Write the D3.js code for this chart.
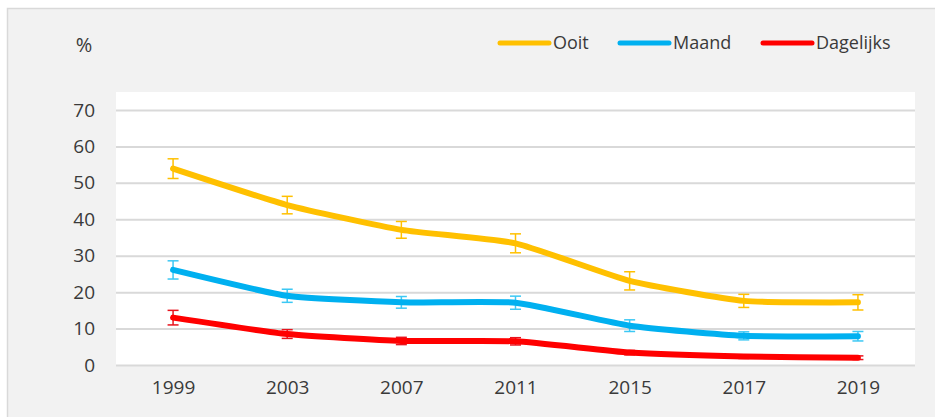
<!DOCTYPE html>
<html>
<head>
<meta charset="utf-8">
<script src="https://cdn.jsdelivr.net/npm/d3@7"></script>
<style>
    body { margin: 0; background: #ffffff; }
    text { font-family: "Open Sans", sans-serif; fill: #3a3a3a; }
    .y-axis path, .x-axis path, .x-axis line { display: none; }
    .y-axis line { stroke: #d9d9d9; stroke-width: 2; }
</style>
</head>
<body>
<div class="chart"></div>
<script>
// jaren op de x-as
const years = ["1999", "2003", "2007", "2011", "2015", "2017", "2019"];

// percentages per reeks
const ooit = [53.9, 43.9, 37.1, 33.4, 23.1, 17.6, 17.2];
const maand = [26.1, 19.0, 17.2, 17.1, 10.8, 8.0, 7.9];
const dagelijks = [13.0, 8.5, 6.6, 6.5, 3.4, 2.3, 2.0];

// foutmarges (+/-)
const ooitErr = [2.7, 2.4, 2.3, 2.6, 2.5, 1.8, 2.1];
const maandErr = [2.5, 1.8, 1.6, 1.8, 1.6, 1.1, 1.3];
const dagelijksErr = [2.0, 1.2, 1.0, 1.0, 0.6, 0.5, 0.5];

const yTicks = [0, 10, 20, 30, 40, 50, 60, 70];

const series = [
    {name: "Ooit", values: ooit, err: ooitErr, color: "#ffc000", errColor: "#ffc000"},
    {name: "Maand", values: maand, err: maandErr, color: "#00b0f0", errColor: "#3cc8f4"},
    {name: "Dagelijks", values: dagelijks, err: dagelijksErr, color: "#ff0000", errColor: "#e8141e"}
];

const width = 935;
const height = 417;

const plot = {left: 116, right: 915, top: 92, bottom: 366};

const svg = d3.select("div.chart")
    .append("svg")
    .attr("width", width)
    .attr("height", height);

// grijze achtergrond van het grafiekgebied
svg.append("rect")
    .attr("x", 7.5)
    .attr("y", 8.5)
    .attr("width", width)
    .attr("height", height)
    .attr("fill", "#f2f2f2")
    .attr("stroke", "#d9d9d9")
    .attr("stroke-width", 1.5);

svg.append("rect")
    .attr("x", plot.left)
    .attr("y", plot.top)
    .attr("width", plot.right - plot.left)
    .attr("height", plot.bottom - plot.top)
    .attr("fill", "#ffffff");

const x = d3.scalePoint()
    .domain(years)
    .range([plot.left, plot.right])
    .padding(0.5);

const y = d3.scaleLinear()
    .domain([0, 70])
    .range([365, 110]);

svg.append("g")
    .attr("class", "y-axis")
    .attr("transform", "translate(" + plot.left + ",0)")
    .call(d3.axisLeft(y).tickValues(yTicks).tickSize(-(plot.right - plot.left)).tickPadding(21))
    .selectAll("text")
    .style("font-size", "19px");

svg.append("g")
    .attr("class", "x-axis")
    .attr("transform", "translate(0," + 366 + ")")
    .call(d3.axisBottom(x).tickSize(0).tickPadding(15))
    .selectAll("text")
    .style("font-size", "19px");

svg.append("text")
    .attr("x", 84)
    .attr("y", 45)
    .attr("dy", "0.35em")
    .attr("text-anchor", "middle")
    .style("font-size", "20px")
    .text("%");

// licht afgevlakte lijn, zoals in de originele grafiek
const line = d3.line()
    .x(function(d, i) { return x(years[i]); })
    .y(function(d) { return y(d); })
    .curve(d3.curveCardinal.tension(0.5));

for (let s of series) {
    let g = svg.append("g");

    // foutbalken
    let bars = g.selectAll("g.err")
        .data(s.values)
        .enter()
        .append("g")
        .attr("class", "err")
        .attr("stroke", s.errColor)
        .attr("stroke-width", 1.5);

    bars.append("line")
        .attr("x1", function(d, i) { return x(years[i]); })
        .attr("x2", function(d, i) { return x(years[i]); })
        .attr("y1", function(d, i) { return y(d + s.err[i]); })
        .attr("y2", function(d, i) { return y(d - s.err[i]); });

    for (let sign of [1, -1]) {
        bars.append("line")
            .attr("x1", function(d, i) { return x(years[i]) - 5.5; })
            .attr("x2", function(d, i) { return x(years[i]) + 5.5; })
            .attr("y1", function(d, i) { return y(d + sign * s.err[i]); })
            .attr("y2", function(d, i) { return y(d + sign * s.err[i]); });
    }

    g.append("path")
        .datum(s.values)
        .attr("d", line)
        .attr("fill", "none")
        .attr("stroke", s.color)
        .attr("stroke-width", 6)
        .attr("stroke-linecap", "round")
        .attr("stroke-linejoin", "round");
}

// legenda
const legendX = [498, 618, 761];
const legend = svg.append("g")
    .selectAll("g")
    .data(series)
    .enter()
    .append("g")
    .attr("transform", function(d, i) { return "translate(" + legendX[i] + ",43)"; });

legend.append("line")
    .attr("x1", 2)
    .attr("x2", 51)
    .attr("stroke", function(d) { return d.color; })
    .attr("stroke-width", 5)
    .attr("stroke-linecap", "round");

legend.append("text")
    .attr("x", 55)
    .attr("dy", "0.35em")
    .style("font-size", "18px")
    .text(function(d) { return d.name; });
</script>
</body>
</html>
